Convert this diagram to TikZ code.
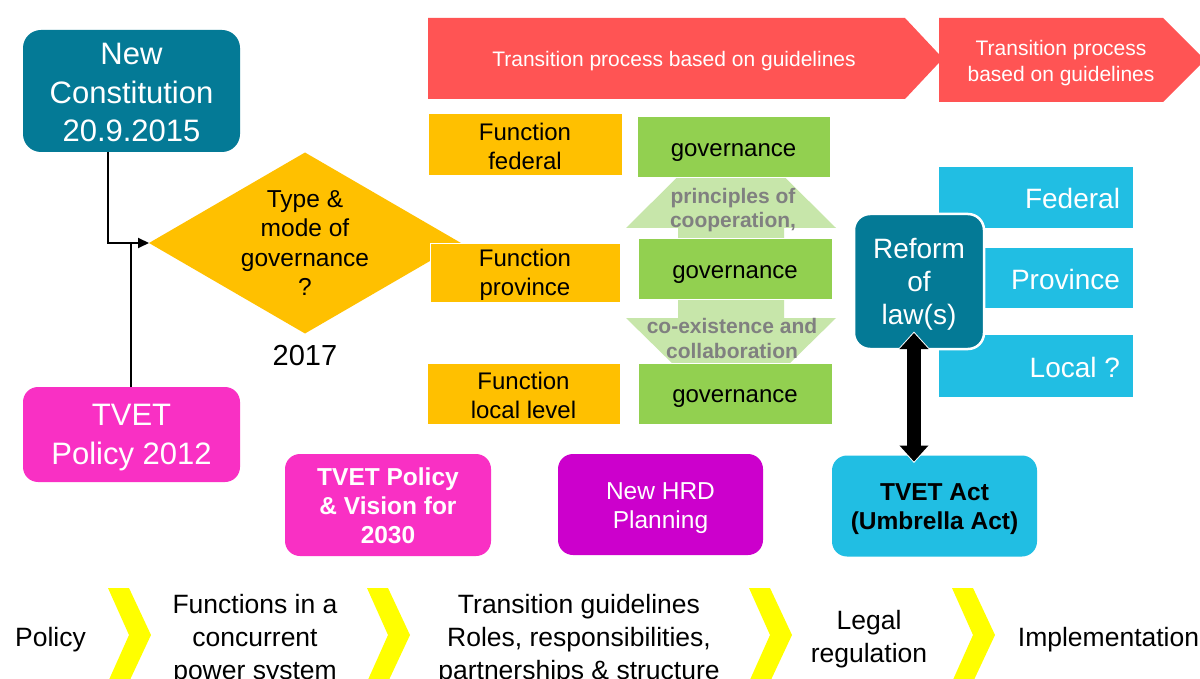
\documentclass[tikz,border=0pt]{standalone}
\usepackage{fontspec}
\setmainfont{Liberation Sans}
\usetikzlibrary{shapes.geometric,arrows.meta}
\definecolor{tealc}{RGB}{4,122,150}
\definecolor{redc}{RGB}{255,84,84}
\definecolor{orangec}{RGB}{255,192,0}
\definecolor{greenc}{RGB}{146,208,80}
\definecolor{lgreenc}{RGB}{199,230,170}
\definecolor{grayt}{RGB}{128,128,128}
\definecolor{magc}{RGB}{249,48,196}
\definecolor{purpc}{RGB}{204,0,204}
\definecolor{bluec}{RGB}{33,190,227}
\definecolor{yellowc}{RGB}{255,255,0}
\tikzset{
  every node/.style={inner sep=0pt, outer sep=0pt, align=center},
  fs/.style 2 args={font=\fontsize{#1}{#2}\selectfont},
  fsb/.style 2 args={font=\fontsize{#1}{#2}\selectfont\bfseries},
  rbox/.style={rectangle, rounded corners=15pt},
  sbox/.style={rectangle, draw=white, line width=1pt},
  conn/.style={line width=2pt, black},
  chev/.style={fill=yellowc},
}
\begin{document}
\begin{tikzpicture}[x=1pt,y=-1pt]
\useasboundingbox (0,0) rectangle (1200,679);
\fill[white] (0,0) rectangle (1200,679);

% red process arrows
\fill[redc] (428,18) -- (905,18) -- (943,58.5) -- (905,99) -- (428,99) -- cycle;
\node[fs={21}{26}, text=white] (r1) at (674,61) {Transition process based on guidelines};
\fill[redc] (939,18) -- (1163,18) -- (1205,60) -- (1163,102) -- (939,102) -- cycle;
\node[fs={21}{26.5}, text=white] (r2) at (1061,63) {Transition process\\based on guidelines};

% left column
\node[rbox, rounded corners=18pt, fill=tealc, minimum width=217pt, minimum height=122pt] (nc) at (131.5,91) {};
\node[fs={31}{38.5}, text=white] (nct) at ([yshift=-1.5pt]nc.center) {New\\Constitution\\20.9.2015};
\node[rbox, fill=magc, minimum width=217pt, minimum height=95pt] (tp) at (131.5,434.5) {};
\node[fs={31}{39}, text=white] (tpt) at ([yshift=-3.5pt]tp.center) {TVET\\Policy 2012};

% diamond
\node[diamond, fill=orangec, minimum width=312pt, minimum height=181pt] (dia) at (305,243) {};
\node[fs={24.5}{29.5}] (diat) at (dia.center) {Type \&\\mode of\\governance\\?};
\node[fs={29}{34}] (y17) at (305,356) {2017};

\draw[conn, -{Triangle[length=11pt,width=10pt]}] ([xshift=-23.5pt]nc.south) |- (dia.west);
\draw[conn] ([xshift=-0.5pt]tp.north) -- ([xshift=-0.5pt]tp.north |- dia.west);

% light green double arrow
\fill[lgreenc] (731,124) -- (836,228) -- (784,228) -- (784,318) -- (836,318) -- (731,421)
  -- (626,318) -- (678,318) -- (678,228) -- (626,228) -- cycle;

% function boxes
\node[sbox, fill=orangec, minimum width=194pt, minimum height=62pt] (ff) at (525,145) {};
\node[fs={24}{29}] (fft) at ([yshift=-1.5pt]ff.center) {Function\\federal};
\node[sbox, fill=orangec, minimum width=190pt, minimum height=58pt] (fp) at (525,273) {};
\node[fs={24}{29}] (fpt) at ([yshift=-1.5pt]fp.center) {Function\\province};
\node[sbox, fill=orangec, minimum width=193pt, minimum height=61pt] (fl) at (523.5,393.5) {};
\node[fs={24}{29}] (flt) at ([yshift=-1.5pt]fl.center) {Function\\local level};

% governance boxes
\node[sbox, fill=greenc, minimum width=193pt, minimum height=61pt] (g1) at (733.5,147.5) {};
\node[fs={24}{29}] (g1t) at ([yshift=-5pt]g1.center) {governance};
\node[sbox, fill=greenc, minimum width=194pt, minimum height=60pt] (g2) at (735,269) {};
\node[fs={24}{29}] (g2t) at ([yshift=-5.5pt]g2.center) {governance};
\node[sbox, fill=greenc, minimum width=194pt, minimum height=61pt] (g3) at (735,393.5) {};
\node[fs={24}{29}] (g3t) at ([yshift=-5.5pt]g3.center) {governance};

\node[fsb={21}{24.5}, text=grayt] (pc) at (733,210) {principles of\\cooperation,};
\node[fsb={21}{25}, text=grayt] (ce) at (732,338) {co-existence and\\collaboration};

% blue level boxes
\node[rectangle, fill=bluec, minimum width=194pt, minimum height=61pt] (fed) at (1036,197.5) {};
\node[rectangle, fill=bluec, minimum width=194pt, minimum height=60pt] (prov) at (1036,278) {};
\node[rectangle, fill=bluec, minimum width=194pt, minimum height=62pt] (loc) at (1036,366) {};
\node[anchor=east, fs={28}{33}, text=white] (fedt) at ([xshift=-13pt,yshift=-1pt]fed.east) {Federal};
\node[anchor=east, fs={28}{33}, text=white] (provt) at ([xshift=-13pt,yshift=-1.5pt]prov.east) {Province};
\node[anchor=east, fs={28}{33}, text=white] (loct) at ([xshift=-13pt,yshift=-1pt]loc.east) {Local ?};

\node[rbox, rounded corners=16pt, fill=tealc, draw=white, line width=2.5pt,
      minimum width=130pt, minimum height=135pt] (reform) at (919,281.5) {};
\node[fs={28}{33}, text=white] (reformt) at ([yshift=-2.5pt]reform.center) {Reform\\of\\law(s)};

% bottom row boxes
\node[rbox, fill=magc, minimum width=206pt, minimum height=102pt] (pv) at (388,505) {};
\node[fsb={24.5}{29}, text=white] (pvt) at ([yshift=-1pt]pv.center) {TVET Policy\\\& Vision for\\2030};
\node[rbox, fill=purpc, minimum width=205pt, minimum height=101pt] (hrd) at (660.5,504.5) {};
\node[fs={24.5}{28.5}, text=white] (hrdt) at ([yshift=-3.5pt]hrd.center) {New HRD\\Planning};
\node[rbox, fill=bluec, minimum width=205pt, minimum height=101pt] (act) at (934.5,506) {};
\node[fsb={24.5}{28.5}] (actt) at ([yshift=-3pt]act.center) {TVET Act\\(Umbrella Act)};

% black double arrow
\draw[line width=17pt, white, {Triangle[length=19pt,width=33pt]}-{Triangle[length=19pt,width=33pt]}]
  ([xshift=-5pt,yshift=17.5pt]reform.south) -- ([xshift=-20.5pt,yshift=-7.5pt]act.north);
\draw[line width=14pt, black, {Triangle[length=16pt,width=28pt]}-{Triangle[length=16pt,width=28pt]}]
  ([xshift=-5pt,yshift=16pt]reform.south) -- ([xshift=-20.5pt,yshift=-6pt]act.north);

% bottom chevrons
\foreach \L in {108,367,749,952}{
  \fill[chev] (\L,588) -- (\L+21,588) -- (\L+43,635) -- (\L+21,682) -- (\L,682) -- (\L+21,635) -- cycle;
}
\node[fs={26.5}{33}] (b1) at (50.5,640) {Policy};
\node[fs={26.5}{33}] (b2) at (255,640) {Functions in a\\concurrent\\power system};
\node[fs={26.5}{33}] (b3) at (579,640) {Transition guidelines\\Roles, responsibilities,\\partnerships \& structure};
\node[fs={26.5}{33}] (b4) at (869,639) {Legal\\regulation};
\node[fs={26.5}{33}] (b5) at (1108.5,640) {Implementation};
\end{tikzpicture}
\end{document}
